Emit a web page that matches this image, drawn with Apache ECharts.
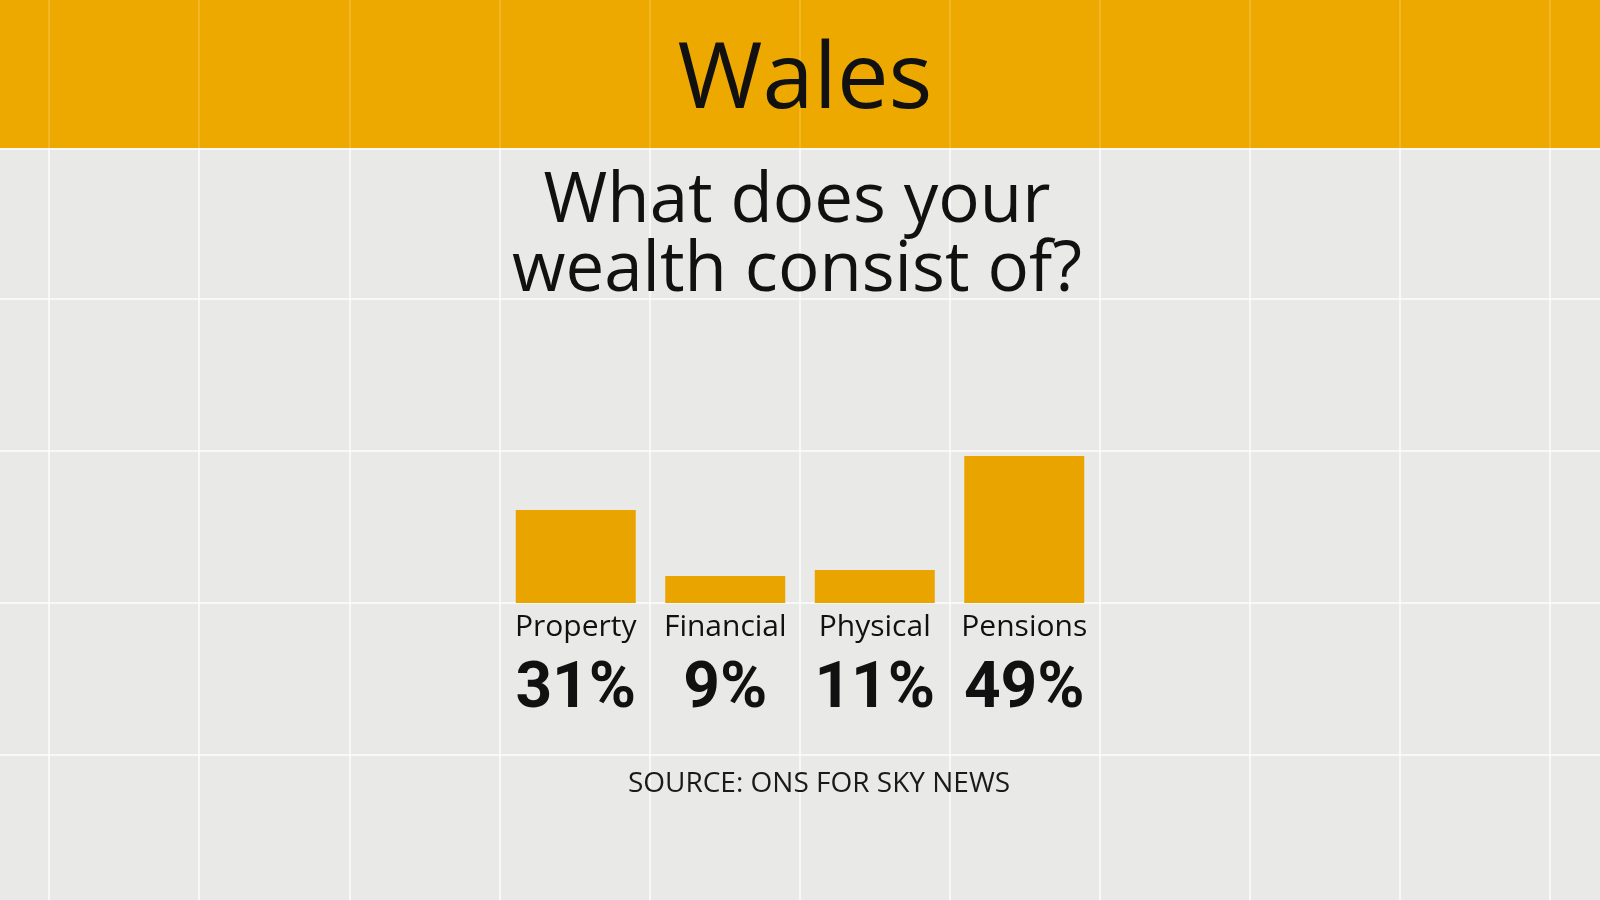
<!DOCTYPE html>
<html>
<head>
<meta charset="utf-8">
<script src="https://cdn.jsdelivr.net/npm/echarts@6/dist/echarts.min.js"></script>
<style>
html,body{margin:0;padding:0;background:#E9E9E8;}
#chart{width:1600px;height:900px;}
</style>
</head>
<body>
<div id="chart"></div>
<script>
const headerText = 'Wales';
const questionText = 'What does your\nwealth consist of?';
const sourceText = 'SOURCE: ONS FOR SKY NEWS';
const categories = ['Property', 'Financial', 'Physical', 'Pensions'];
const values = [31, 9, 11, 49];

const FONT = '"Open Sans", "Noto Sans", sans-serif';
const BOLD_FONT = 'Roboto, "Open Sans", sans-serif';
const chart = echarts.init(document.getElementById('chart'));

const gridX = [49, 199, 350, 500, 650, 800, 950, 1100, 1250, 1400, 1550];
const gridY = [149, 299, 451, 603, 755];
const deco = [];
deco.push({type:'rect', shape:{x:0,y:0,width:1600,height:148}, style:{fill:'#EDA900'}, z:0});
gridX.forEach(x => {
  deco.push({type:'line', shape:{x1:x,y1:148,x2:x,y2:900}, style:{stroke:'#FFFFFF', lineWidth:1.5, opacity:0.9}, z:1});
  deco.push({type:'line', shape:{x1:x,y1:0,x2:x,y2:148}, style:{stroke:'#FFE9A0', lineWidth:1.5, opacity:0.3}, z:1});
});
gridY.forEach(y => {
  deco.push({type:'line', shape:{x1:0,y1:y,x2:1600,y2:y}, style:{stroke:'#FFFFFF', lineWidth:1.5, opacity:0.9}, z:1});
});

chart.setOption({
  backgroundColor: '#E9E9E8',
  animation: false,
  graphic: { elements: deco },
  title: [
    { text: headerText, left: 800, top: 77, textAlign: 'center', textVerticalAlign: 'middle',
      textStyle: { fontFamily: FONT, fontSize: 92, fontWeight: 'normal', color: '#111111' }, z: 5 },
    { text: questionText, left: 792, top: 163, textAlign: 'center',
      textStyle: { fontFamily: FONT, fontSize: 69, fontWeight: 'normal', color: '#111111', lineHeight: 69 }, z: 5 },
    { text: sourceText, left: 814, top: 765, textAlign: 'center',
      textStyle: { fontFamily: FONT, fontSize: 28, fontWeight: 'normal', color: '#1a1a1a' }, z: 5 }
  ],
  grid: { left: 501, width: 598, top: 453, height: 150 },
  xAxis: {
    type: 'category',
    data: categories,
    axisLine: { show: false },
    axisTick: { show: false },
    splitLine: { show: false },
    axisLabel: {
      margin: 3,
      interval: 0,
      formatter: (v, i) => '{a|' + v + '}\n{b|' + values[i] + '%}',
      rich: {
        a: { fontFamily: FONT, fontSize: 30, color: '#111111', lineHeight: 42, align: 'center' },
        b: { fontFamily: BOLD_FONT, fontSize: 64, fontWeight: 'bold', color: '#111111', lineHeight: 86, align: 'center' }
      }
    }
  },
  yAxis: {
    type: 'value', min: 0, max: 50, show: false, splitLine: { show: false }
  },
  series: [{
    type: 'bar',
    data: values,
    barWidth: 120,
    itemStyle: { color: '#EAA400' },
    z: 3
  }]
});
</script>
</body>
</html>
